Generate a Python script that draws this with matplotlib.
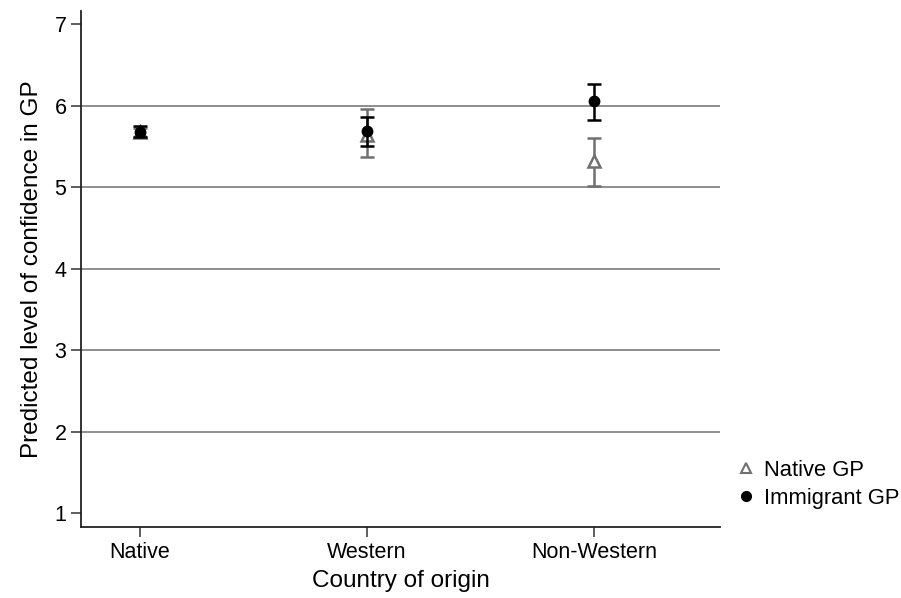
import numpy as np
import matplotlib.pyplot as plt

plt.rcParams['font.family'] = ['Liberation Sans', 'DejaVu Sans']

categories = ['Native', 'Western', 'Non-Western']
native_gp = [5.67, 5.64, 5.32]
native_lo = [5.61, 5.37, 5.01]
native_hi = [5.73, 5.96, 5.60]
immig_gp = [5.68, 5.69, 6.05]
immig_lo = [5.61, 5.50, 5.82]
immig_hi = [5.75, 5.86, 6.27]

x = np.arange(len(categories))

fig = plt.figure(figsize=(9.01, 5.98), dpi=100)
ax = fig.add_axes([0.0899, 0.1187, 0.7092, 0.863])

ax.set_ylim(0.83, 7.16)
ax.set_xlim(-0.26, 2.555)
for v in [2, 3, 4, 5, 6]:
    ax.axhline(v, color='#707070', lw=1.1, zorder=1)

nat = np.array(native_gp)
imm = np.array(immig_gp)
ax.errorbar(x, nat, yerr=[nat - np.array(native_lo), np.array(native_hi) - nat],
            fmt='^', color='#707070', mfc='white', mec='#707070', mew=1.8, ms=8,
            elinewidth=1.8, capsize=5, capthick=1.8, label='Native GP', zorder=3)
ax.errorbar(x, imm, yerr=[imm - np.array(immig_lo), np.array(immig_hi) - imm],
            fmt='o', color='black', ms=7.5,
            elinewidth=1.8, capsize=5, capthick=1.8, label='Immigrant GP', zorder=4)

ax.set_xticks(x)
ax.set_xticklabels(categories)
ax.set_yticks(range(1, 8))
ax.tick_params(labelsize=15.5, length=7, width=1.1, direction='out', color='#333333')
ax.spines['top'].set_visible(False)
ax.spines['right'].set_visible(False)
for s in ['left', 'bottom']:
    ax.spines[s].set_linewidth(1.3)
    ax.spines[s].set_color('#222222')

ax.set_xlabel('Country of origin', fontsize=17.5, labelpad=5)
ax.set_ylabel('Predicted level of confidence in GP', fontsize=17.5, labelpad=8)

handles = [
    plt.Line2D([], [], marker='^', ls='none', mfc='white', mec='#707070', mew=1.5, ms=7),
    plt.Line2D([], [], marker='o', ls='none', color='black', ms=7),
]
ax.legend(handles, ['Native GP', 'Immigrant GP'], loc='upper left',
          bbox_to_anchor=(0.992, 0.168), frameon=False, fontsize=15.8,
          handletextpad=0.35, labelspacing=0.3, handlelength=1.0)

fig.savefig('out.png', dpi=100)
